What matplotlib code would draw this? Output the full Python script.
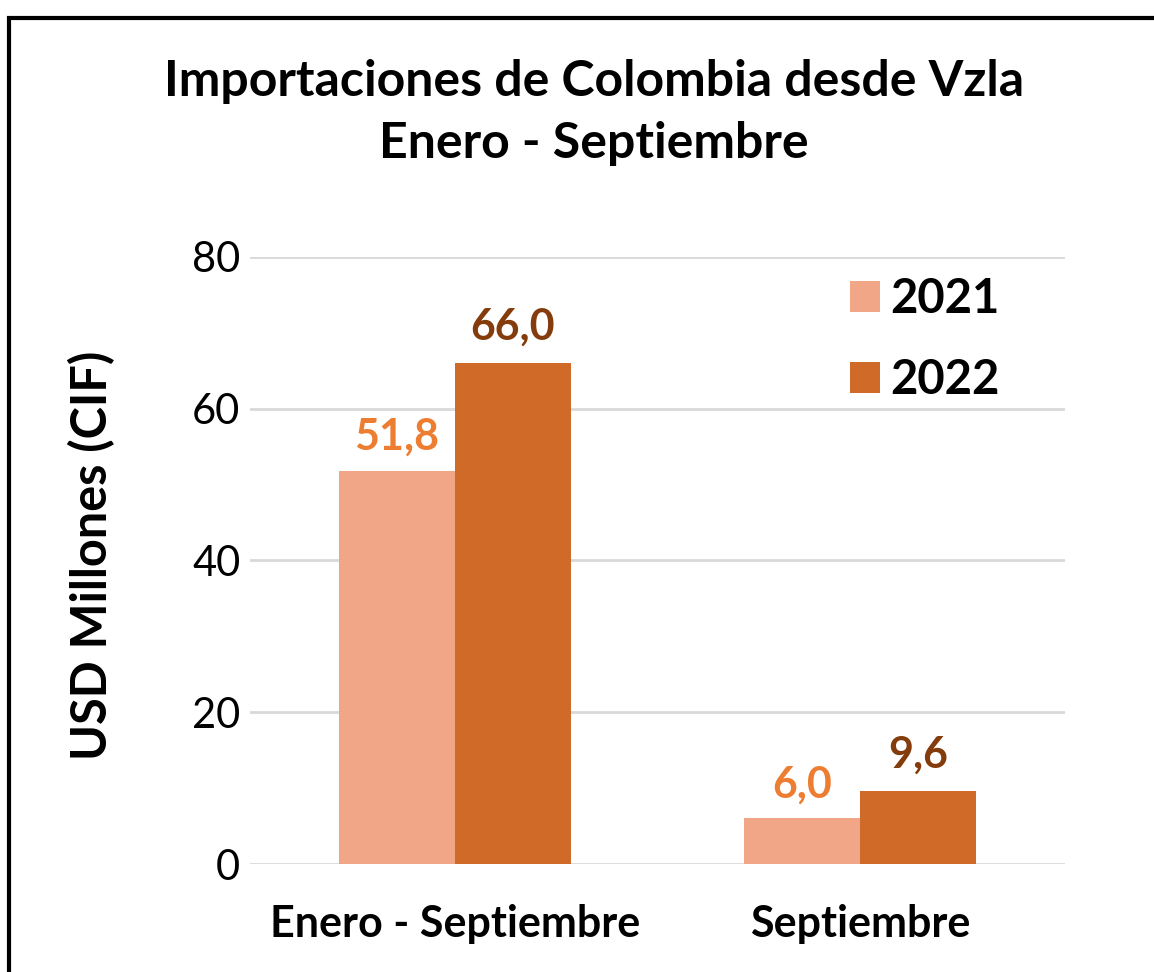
import matplotlib
matplotlib.use("Agg")
import matplotlib.pyplot as plt
from matplotlib.patches import Rectangle
import numpy as np

categories = ["Enero - Septiembre", "Septiembre"]
series_names = ["2021", "2022"]
values_2021 = [51.8, 6.0]
values_2022 = [66.0, 9.6]
labels_2021 = ["51,8", "6,0"]
labels_2022 = ["66,0", "9,6"]
yticks = [0, 20, 40, 60, 80]

c2021 = "#F1A688"
c2022 = "#D06A28"
lab2021 = "#ED7D31"
lab2022 = "#843C0C"

plt.rcParams['font.family'] = ['Lato', 'DejaVu Sans']

W, H = 1154, 972
fig = plt.figure(figsize=(W / 100, H / 100), dpi=100)
ax = fig.add_axes([250 / W, 108 / H, 815 / W, 607 / H])

x = np.arange(len(categories))
bw = 0.286
b1 = ax.bar(x - bw / 2, values_2021, bw, color=c2021, label=series_names[0], zorder=3)
b2 = ax.bar(x + bw / 2, values_2022, bw, color=c2022, label=series_names[1], zorder=3)

for rect, lab in zip(b1, labels_2021):
    ax.annotate(lab, (rect.get_x() + rect.get_width() / 2, rect.get_height()),
                xytext=(0, 15), textcoords="offset points", ha="center", va="baseline",
                fontsize=31, fontweight="bold", color=lab2021)
for rect, lab in zip(b2, labels_2022):
    ax.annotate(lab, (rect.get_x() + rect.get_width() / 2, rect.get_height()),
                xytext=(0, 17), textcoords="offset points", ha="center", va="baseline",
                fontsize=31, fontweight="bold", color=lab2022)

ax.set_xlim(-0.506, 1.506)
ax.set_ylim(0, 80)
ax.set_yticks(yticks)
ax.set_yticklabels([str(v) for v in yticks], fontsize=30)
ax.set_xticks(x)
ax.set_xticklabels(categories, fontsize=31, fontweight="bold")
ax.tick_params(axis="both", length=0, colors="#000000")
ax.tick_params(axis="y", pad=7)
ax.tick_params(axis="x", pad=29)
ax.grid(axis="y", color="#D9D9D9", linewidth=2, zorder=0)
ax.set_axisbelow(True)
for s in ax.spines.values():
    s.set_visible(False)

fig.text(92 / W, 1 - 555 / H, "USD Millones (CIF)", rotation=90, ha="center", va="center",
         fontsize=35, fontweight="bold")

leg = ax.legend(loc="upper left", bbox_to_anchor=(850 / W, 1 - 277 / H),
                bbox_transform=fig.transFigure, frameon=False, borderpad=0, borderaxespad=0,
                prop={"size": 34, "weight": "bold"}, handlelength=0.64, handleheight=0.64,
                handletextpad=0.22, labelspacing=0.78)

fig.text(594 / W, 1 - 81 / H, "Importaciones de Colombia desde Vzla", ha="center",
         va="center", fontsize=36, fontweight="bold")
fig.text(594 / W, 1 - 144 / H, "Enero - Septiembre", ha="center",
         va="center", fontsize=36, fontweight="bold")

fig.patches.append(Rectangle((9 / W, -0.1), 1.2, 1 - 18 / H + 0.1, transform=fig.transFigure,
                             fill=False, edgecolor="black", linewidth=3))

fig.savefig("out.png", dpi=100)
